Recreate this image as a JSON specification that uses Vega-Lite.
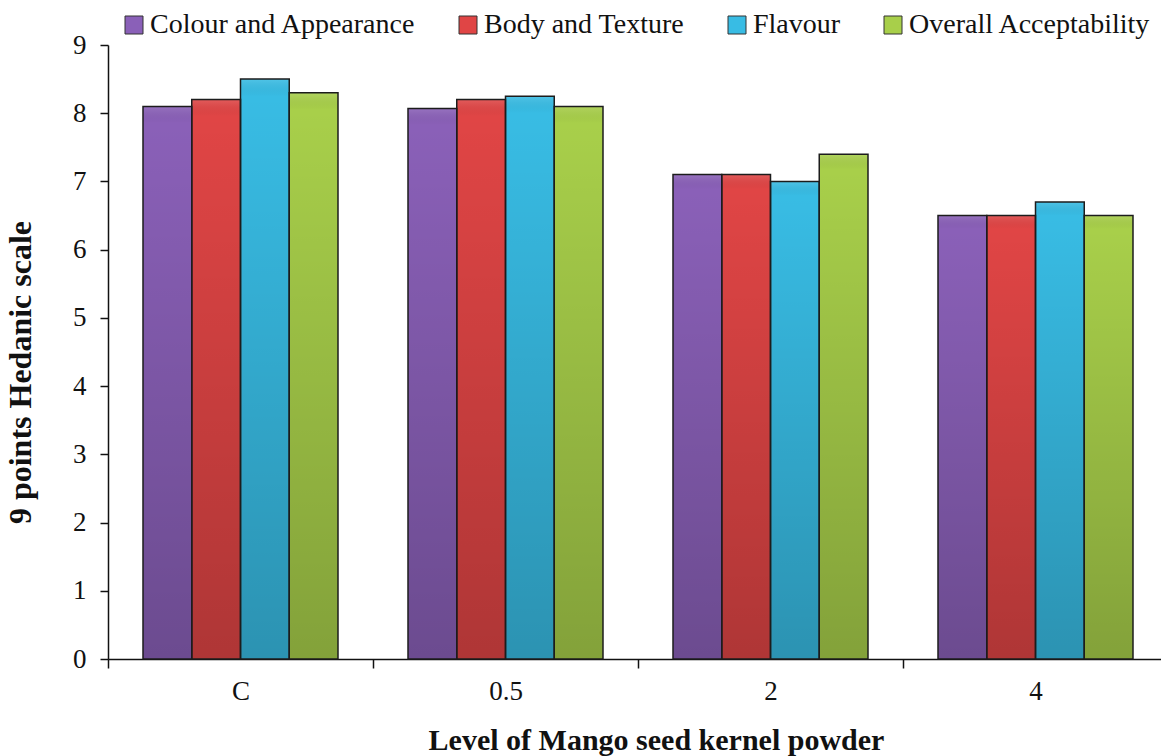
{
  "$schema": "https://vega.github.io/schema/vega-lite/v6.json",
  "autosize": {"type": "none"},
  "width": 1053,
  "height": 614,
  "padding": {"left": 108, "top": 45, "right": 0, "bottom": 97},
  "background": "white",
  "config": {
    "view": {"stroke": null},
    "font": "Liberation Serif",
    "style": {
      "guide-label": {"font": "Liberation Serif", "fill": "#111111"},
      "guide-title": {"font": "Liberation Serif", "fill": "#111111"}
    },
    "legend": {"labelFont": "Liberation Serif", "titleFont": "Liberation Serif"},
    "axis": {
      "domainColor": "#111111",
      "domainWidth": 1.5,
      "tickColor": "#111111",
      "tickWidth": 1.5,
      "labelColor": "#111111",
      "titleColor": "#111111",
      "labelFont": "Liberation Serif",
      "titleFont": "Liberation Serif",
      "labelFontSize": 27,
      "titleFontSize": 30,
      "titleFontWeight": "bold",
      "grid": false
    }
  },
  "data": {
    "values": [
      {"level": "C", "attr": "Colour and Appearance", "score": 8.1},
      {"level": "C", "attr": "Body and Texture", "score": 8.2},
      {"level": "C", "attr": "Flavour", "score": 8.5},
      {"level": "C", "attr": "Overall Acceptability", "score": 8.3},
      {"level": "0.5", "attr": "Colour and Appearance", "score": 8.07},
      {"level": "0.5", "attr": "Body and Texture", "score": 8.2},
      {"level": "0.5", "attr": "Flavour", "score": 8.25},
      {"level": "0.5", "attr": "Overall Acceptability", "score": 8.1},
      {"level": "2", "attr": "Colour and Appearance", "score": 7.1},
      {"level": "2", "attr": "Body and Texture", "score": 7.1},
      {"level": "2", "attr": "Flavour", "score": 7.0},
      {"level": "2", "attr": "Overall Acceptability", "score": 7.4},
      {"level": "4", "attr": "Colour and Appearance", "score": 6.5},
      {"level": "4", "attr": "Body and Texture", "score": 6.5},
      {"level": "4", "attr": "Flavour", "score": 6.7},
      {"level": "4", "attr": "Overall Acceptability", "score": 6.5}
    ]
  },
  "encoding": {
    "x": {
      "field": "level",
      "type": "nominal",
      "sort": ["C", "0.5", "2", "4"],
      "scale": {"range": [0, 1060], "paddingInner": 0, "paddingOuter": 0},
      "axis": {
        "title": "Level of Mango seed kernel powder",
        "labelAngle": 0,
        "labelFont": "Liberation Serif",
        "titleFont": "Liberation Serif",
        "tickBand": "extent",
        "tickSize": 9,
        "labelPadding": 10,
        "titleX": 548,
        "titleY": 81,
        "titleBaseline": "middle",
        "titleAnchor": "middle",
        "titleAlign": "center"
      }
    },
    "xOffset": {
      "field": "attr",
      "sort": ["Colour and Appearance", "Body and Texture", "Flavour", "Overall Acceptability"],
      "scale": {"paddingInner": 0, "paddingOuter": 0.718}
    },
    "y": {
      "field": "score",
      "type": "quantitative",
      "scale": {"domain": [0, 9]},
      "axis": {
        "title": "9 points Hedanic scale",
        "labelFont": "Liberation Serif",
        "titleFont": "Liberation Serif",
        "values": [0, 1, 2, 3, 4, 5, 6, 7, 8, 9],
        "tickSize": 8,
        "labelPadding": 14,
        "titleFontSize": 32,
        "titleAngle": -90,
        "titleX": -88,
        "titleY": 327,
        "titleBaseline": "middle",
        "titleAlign": "center",
        "titleAnchor": "middle"
      }
    }
  },
  "layer": [
    {
      "mark": {"type": "bar", "strokeWidth": 0},
      "encoding": {
        "color": {
          "field": "attr",
          "type": "nominal",
          "sort": ["Colour and Appearance", "Body and Texture", "Flavour", "Overall Acceptability"],
          "scale": {
            "domain": ["Colour and Appearance", "Body and Texture", "Flavour", "Overall Acceptability"],
            "range": ["#8A60B8", "#E04545", "#38BCE4", "#A8CF4A"]
          },
          "legend": {
            "title": null,
            "orient": "none",
            "legendX": 12,
            "legendY": -34,
            "direction": "horizontal",
            "symbolType": "square",
            "symbolSize": 324,
            "symbolStrokeColor": "#333333",
            "symbolStrokeWidth": 1,
            "labelFont": "Liberation Serif",
            "labelFontSize": 28,
            "labelColor": "#111111",
            "labelOffset": 2,
            "columnPadding": 38,
            "labelLimit": 400,
            "encode": {
              "labels": {
                "update": {
                  "font": {"value": "Liberation Serif"},
                  "fontSize": {"value": 28},
                  "fill": {"value": "#111111"}
                }
              }
            }
          }
        }
      }
    },
    {
      "mark": {
        "type": "bar",
        "fill": {
          "gradient": "linear",
          "x1": 0, "y1": 0, "x2": 0, "y2": 1,
          "stops": [
            {"offset": 0, "color": "rgba(255,255,255,0.12)"},
            {"offset": 0.03, "color": "rgba(0,0,0,0)"},
            {"offset": 1, "color": "rgba(0,0,0,0.22)"}
          ]
        },
        "stroke": "#1c1c1c",
        "strokeWidth": 1.5
      }
    }
  ]
}
